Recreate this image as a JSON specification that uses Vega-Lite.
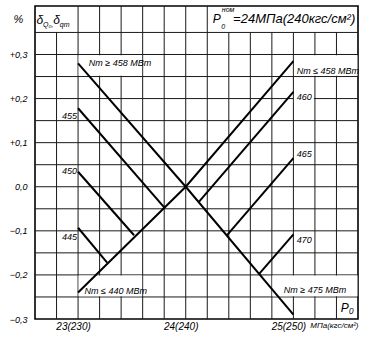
{
  "$schema": "https://vega.github.io/schema/vega-lite/v6.json",
  "width": 323,
  "height": 313,
  "autosize": "none",
  "padding": {"left": 35, "top": 6, "right": 8, "bottom": 25},
  "background": "white",
  "config": {
    "view": {"stroke": "black", "strokeWidth": 1.6},
    "font": "Liberation Sans",
    "text": {"font": "Liberation Sans", "fontStyle": "italic", "color": "black"}
  },
  "datasets": {
    "vgrid": [
      {"p": 22.8, "v1": -0.3, "v2": 0.35}, {"p": 23.0, "v1": -0.3, "v2": 0.41}, {"p": 23.2, "v1": -0.3, "v2": 0.41},
      {"p": 23.4, "v1": -0.3, "v2": 0.41}, {"p": 23.6, "v1": -0.3, "v2": 0.41}, {"p": 23.8, "v1": -0.3, "v2": 0.41},
      {"p": 24.0, "v1": -0.3, "v2": 0.41}, {"p": 24.2, "v1": -0.3, "v2": 0.41}, {"p": 24.4, "v1": -0.3, "v2": 0.35},
      {"p": 24.6, "v1": -0.3, "v2": 0.35}, {"p": 24.8, "v1": -0.3, "v2": 0.35}, {"p": 25.0, "v1": -0.3, "v2": 0.35},
      {"p": 25.2, "v1": -0.3, "v2": 0.35}, {"p": 25.4, "v1": -0.3, "v2": 0.35}
    ],
    "hgrid": [
      {"v": -0.25}, {"v": -0.2}, {"v": -0.15}, {"v": -0.1}, {"v": -0.05}, {"v": 0.0},
      {"v": 0.05}, {"v": 0.1}, {"v": 0.15}, {"v": 0.2}, {"v": 0.25}, {"v": 0.3}, {"v": 0.35}
    ],
    "lines": [
      {"id": "A", "p": 23.0, "v": 0.28}, {"id": "A", "p": 24.0, "v": 0.0}, {"id": "A", "p": 25.0, "v": -0.29},
      {"id": "B", "p": 23.0, "v": -0.24}, {"id": "B", "p": 24.0, "v": 0.0}, {"id": "B", "p": 25.0, "v": 0.285},
      {"id": "455", "p": 23.0, "v": 0.178}, {"id": "455", "p": 23.8, "v": -0.047},
      {"id": "450", "p": 23.0, "v": 0.034}, {"id": "450", "p": 23.52, "v": -0.11},
      {"id": "445", "p": 23.0, "v": -0.093}, {"id": "445", "p": 23.27, "v": -0.172},
      {"id": "460", "p": 24.12, "v": -0.035}, {"id": "460", "p": 25.0, "v": 0.215},
      {"id": "465", "p": 24.38, "v": -0.111}, {"id": "465", "p": 25.0, "v": 0.065},
      {"id": "470", "p": 24.68, "v": -0.198}, {"id": "470", "p": 25.0, "v": -0.108}
    ],
    "masks": [
      {"p1": 23.005, "p2": 23.595, "v1": 0.2515, "v2": 0.2985},
      {"p1": 23.005, "p2": 23.595, "v1": -0.2485, "v2": -0.2015},
      {"p1": 25.005, "p2": 25.595, "v1": 0.2515, "v2": 0.2985},
      {"p1": 24.805, "p2": 25.595, "v1": -0.2485, "v2": -0.2015},
      {"p1": 25.005, "p2": 25.19, "v1": 0.19, "v2": 0.215}
    ],
    "texts": [
      {"t": "Nт ≥ 458 МВт", "p": 23.1, "v": 0.28, "role": "L"},
      {"t": "Nт ≤ 440 МВт", "p": 23.06, "v": -0.237, "role": "L"},
      {"t": "Nт ≤ 458 МВт", "p": 25.03, "v": 0.262, "role": "L"},
      {"t": "Nт ≥ 475 МВт", "p": 24.91, "v": -0.235, "role": "L"},
      {"t": "460", "p": 25.03, "v": 0.203, "role": "L"},
      {"t": "465", "p": 25.03, "v": 0.074, "role": "L"},
      {"t": "470", "p": 25.03, "v": -0.12, "role": "L"},
      {"t": "455", "p": 22.99, "v": 0.16, "role": "R"},
      {"t": "450", "p": 22.99, "v": 0.036, "role": "R"},
      {"t": "445", "p": 22.99, "v": -0.115, "role": "R"},
      {"t": "P₀", "p": 25.5, "v": -0.275, "role": "C"},
      {"t": "P", "p": 24.25, "v": 0.381, "role": "B"},
      {"t": "=24МПа(240кгс/см²)", "p": 24.44, "v": 0.381, "role": "T"},
      {"t": "δ", "p": 22.615, "v": 0.378, "role": "B"},
      {"t": "δ", "p": 22.77, "v": 0.378, "role": "B"},
      {"t": "0", "p": 24.33, "v": 0.362, "role": "S"},
      {"t": "ном", "p": 24.335, "v": 0.402, "role": "S"},
      {"t": "Q₀,", "p": 22.675, "v": 0.368, "role": "S"},
      {"t": "qт", "p": 22.83, "v": 0.368, "role": "S"}
    ]
  },
  "layer": [
    {
      "data": {"name": "vgrid"},
      "mark": {"type": "rule", "color": "#1a1a1a", "strokeWidth": 1},
      "encoding": {
        "x": {
          "field": "p", "type": "quantitative",
          "scale": {"domain": [22.6, 25.6], "nice": false, "zero": false},
          "axis": {
            "values": [23, 24, 25],
            "grid": false, "domain": false, "ticks": false,
            "labelExpr": "datum.value == 23 ? '23(230)' : datum.value == 24 ? '24(240)' : '25(250)'",
            "labelOffset": -5, "labelPadding": 2, "labelOverlap": false, "labelBound": false, "labelFlush": false,
            "labelFont": "Liberation Sans", "labelFontStyle": "italic", "labelFontSize": 10, "labelColor": "black",
            "title": "МПа(кгс/см²)", "titleX": 323, "titleY": 6, "titleAlign": "right", "titleBaseline": "middle",
            "titleFont": "Liberation Sans", "titleFontStyle": "italic", "titleFontWeight": "normal", "titleFontSize": 8, "titleColor": "black"
          }
        },
        "y": {
          "field": "v1", "type": "quantitative",
          "scale": {"domain": [-0.3, 0.41], "nice": false, "zero": false},
          "axis": {
            "values": [-0.3, -0.2, -0.1, 0, 0.1, 0.2, 0.3],
            "grid": false, "domain": false, "ticks": false,
            "labelExpr": "(datum.value > 0.001 ? '+' : '') + replace(format(datum.value, '.1f'), '.', ',')",
            "labelPadding": 8, "labelOverlap": false, "labelBound": false, "labelFlush": false,
            "labelFont": "Liberation Sans", "labelFontStyle": "italic", "labelFontSize": 9, "labelColor": "black",
            "title": "%", "titleAngle": 0, "titleX": -17, "titleY": 13, "titleAlign": "center", "titleBaseline": "middle",
            "titleFont": "Liberation Sans", "titleFontStyle": "italic", "titleFontWeight": "normal", "titleFontSize": 11, "titleColor": "black"
          }
        },
        "y2": {"field": "v2"}
      }
    },
    {
      "data": {"name": "hgrid"},
      "mark": {"type": "rule", "color": "#1a1a1a", "strokeWidth": 1},
      "encoding": {
        "y": {"field": "v", "type": "quantitative"}
      }
    },
    {
      "data": {"name": "masks"},
      "mark": {"type": "rect", "fill": "white", "strokeWidth": 0},
      "encoding": {
        "x": {"field": "p1", "type": "quantitative"},
        "x2": {"field": "p2"},
        "y": {"field": "v1", "type": "quantitative"},
        "y2": {"field": "v2"}
      }
    },
    {
      "data": {"name": "lines"},
      "mark": {"type": "line", "color": "black", "strokeWidth": 2},
      "encoding": {
        "x": {"field": "p", "type": "quantitative"},
        "y": {"field": "v", "type": "quantitative"},
        "detail": {"field": "id", "type": "nominal"}
      }
    },
    {
      "data": {"name": "texts"},
      "transform": [{"filter": "datum.role == 'L'"}],
      "mark": {"type": "text", "align": "left", "baseline": "middle", "fontSize": 9},
      "encoding": {
        "x": {"field": "p", "type": "quantitative"},
        "y": {"field": "v", "type": "quantitative"},
        "text": {"field": "t"}
      }
    },
    {
      "data": {"name": "texts"},
      "transform": [{"filter": "datum.role == 'R'"}],
      "mark": {"type": "text", "align": "right", "baseline": "middle", "fontSize": 9},
      "encoding": {
        "x": {"field": "p", "type": "quantitative"},
        "y": {"field": "v", "type": "quantitative"},
        "text": {"field": "t"}
      }
    },
    {
      "data": {"name": "texts"},
      "transform": [{"filter": "datum.role == 'C'"}],
      "mark": {"type": "text", "align": "center", "baseline": "middle", "fontSize": 12},
      "encoding": {
        "x": {"field": "p", "type": "quantitative"},
        "y": {"field": "v", "type": "quantitative"},
        "text": {"field": "t"}
      }
    },
    {
      "data": {"name": "texts"},
      "transform": [{"filter": "datum.role == 'B'"}],
      "mark": {"type": "text", "align": "left", "baseline": "middle", "fontSize": 12},
      "encoding": {
        "x": {"field": "p", "type": "quantitative"},
        "y": {"field": "v", "type": "quantitative"},
        "text": {"field": "t"}
      }
    },
    {
      "data": {"name": "texts"},
      "transform": [{"filter": "datum.role == 'T'"}],
      "mark": {"type": "text", "align": "left", "baseline": "middle", "fontSize": 13},
      "encoding": {
        "x": {"field": "p", "type": "quantitative"},
        "y": {"field": "v", "type": "quantitative"},
        "text": {"field": "t"}
      }
    },
    {
      "data": {"name": "texts"},
      "transform": [{"filter": "datum.role == 'S'"}],
      "mark": {"type": "text", "align": "left", "baseline": "middle", "fontSize": 7},
      "encoding": {
        "x": {"field": "p", "type": "quantitative"},
        "y": {"field": "v", "type": "quantitative"},
        "text": {"field": "t"}
      }
    }
  ]
}
